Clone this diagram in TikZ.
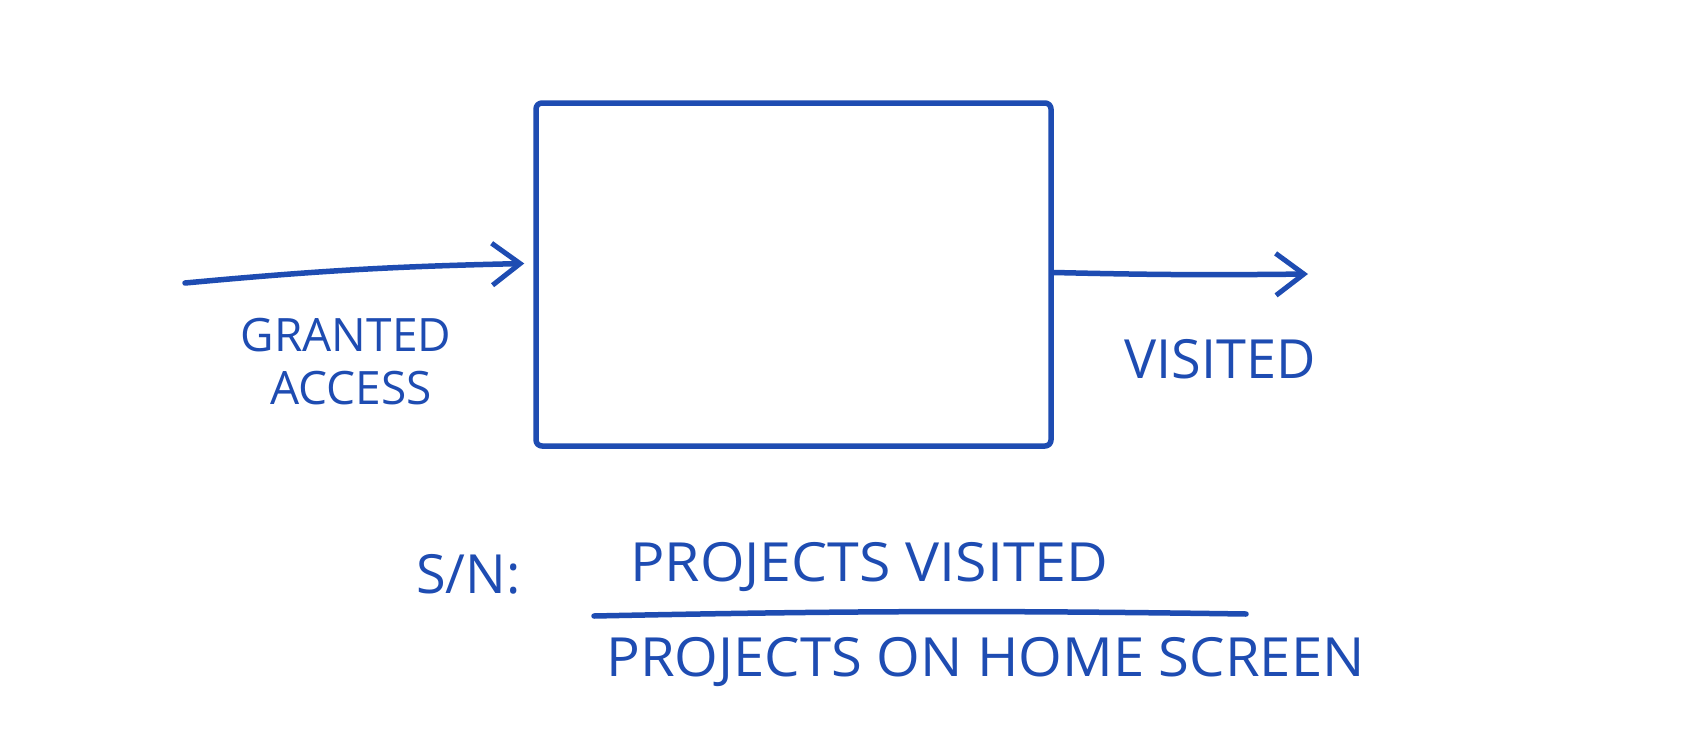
\documentclass[tikz,border=0pt]{standalone}
\usepackage{fontspec}
\setmainfont{Open Sans}
\usetikzlibrary{arrows.meta}
\definecolor{ink}{RGB}{30,76,178}
\tikzset{
  pen/.style={draw=ink, line width=5.5pt, line cap=round, line join=round},
  arrowpen/.style={pen, -{Straight Barb[length=28pt,width=42pt,line width=5pt]}},
  hand/.style={text=ink, font=\fontsize{46}{50}\selectfont, inner sep=0pt},
  bighand/.style={text=ink, font=\fontsize{54}{58}\selectfont, inner sep=0pt},
}
\begin{document}
\begin{tikzpicture}[x=1pt,y=-1pt]
\useasboundingbox[fill=white] (0,0) rectangle (1704,752);
\node[pen, rounded corners=6pt, minimum width=515pt, minimum height=343pt, inner sep=0pt] (box) at (793.5,274.5) {};
\coordinate (inStart) at (185,283);
\coordinate (outEnd) at (1308,274);
\draw[arrowpen] (inStart) to[bend left=2] ([xshift=-9pt,yshift=11pt]box.west);
\draw[arrowpen] ([yshift=2pt]box.east) to[bend left=-1] (outEnd);
\node[hand] (granted) at (346,335) {GRANTED};
\node[hand] (access) at (351,388) {ACCESS};
\node[bighand] (visited) at (1220,359) {VISITED};
\node[bighand, anchor=west] (sn) at (416,574) {S/N:};
\node[bighand, anchor=west] (num) at (630,567) {\scalebox{1.06}[1]{PROJECTS VISITED}};
\node[bighand, anchor=west] (den) at (606,662) {\scalebox{1.04}[1]{PROJECTS ON HOME SCREEN}};
\coordinate (fracL) at (594,616);
\coordinate (fracR) at (1246,614);
\draw[pen] (fracL) to[bend left=1] (fracR);
\end{tikzpicture}
\end{document}
